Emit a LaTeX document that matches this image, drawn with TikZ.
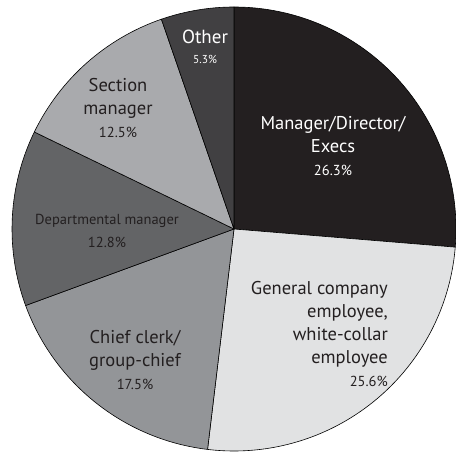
\documentclass[tikz,border=0pt]{standalone}
\usepackage{fontspec}
\setmainfont{PT Sans}
\usepackage{tikz}

\definecolor{execs}{HTML}{231F20}
\definecolor{general}{HTML}{E1E2E3}
\definecolor{chief}{HTML}{939598}
\definecolor{dept}{HTML}{636466}
\definecolor{section}{HTML}{A9AAAD}
\definecolor{other}{HTML}{414042}
\definecolor{ink}{HTML}{231F20}
\newcommand{\pctfont}{\fontsize{14.5}{23}\selectfont}

\begin{document}
\begin{tikzpicture}[x=1pt, y=1pt,
    slice/.style={draw=black, line width=0.6pt, line join=round},
    lbl/.style={draw=none, align=center, inner sep=0pt, font=\fontsize{18.5}{23}\selectfont, text=ink}]
    \useasboundingbox (0,0) rectangle (456,451);
    \coordinate (O) at (234,222);

    % Slices, clockwise from the top
    \foreach \a/\b/\c in {90/-4.68/execs, -4.68/-96.84/general, -96.84/-159.84/chief,
                          -159.84/-205.92/dept, -205.92/-250.92/section, -250.92/-270/other}
        \draw[slice, fill=\c] (O) -- ++(\a:222pt) arc[start angle=\a, end angle=\b, radius=222pt] -- cycle;

    % Labels
    \node[lbl, text=white] (execs) at (333,305) {Manager/Director/\\Execs\\{\pctfont 26.3\%}};
    \node[lbl, align=right, anchor=east] (general) at (388,117) {General company\\employee,\\white-collar\\employee\\{\pctfont 25.6\%}};
    \node[lbl] (chief) at (135,91) {Chief clerk/\\group-chief\\{\pctfont 17.5\%}};
    \node[lbl, font=\fontsize{14.5}{23}\selectfont] (dept) at (107,220) {Departmental manager\\{\pctfont 12.8\%}};
    \node[lbl] (section) at (118,343) {Section\\manager\\{\pctfont 12.5\%}};
    \node[lbl, text=white, font=\fontsize{19}{20}\selectfont] (other) at (205,404) {Other\\{\fontsize{11.5}{20}\selectfont 5.3\%}};
\end{tikzpicture}
\end{document}
